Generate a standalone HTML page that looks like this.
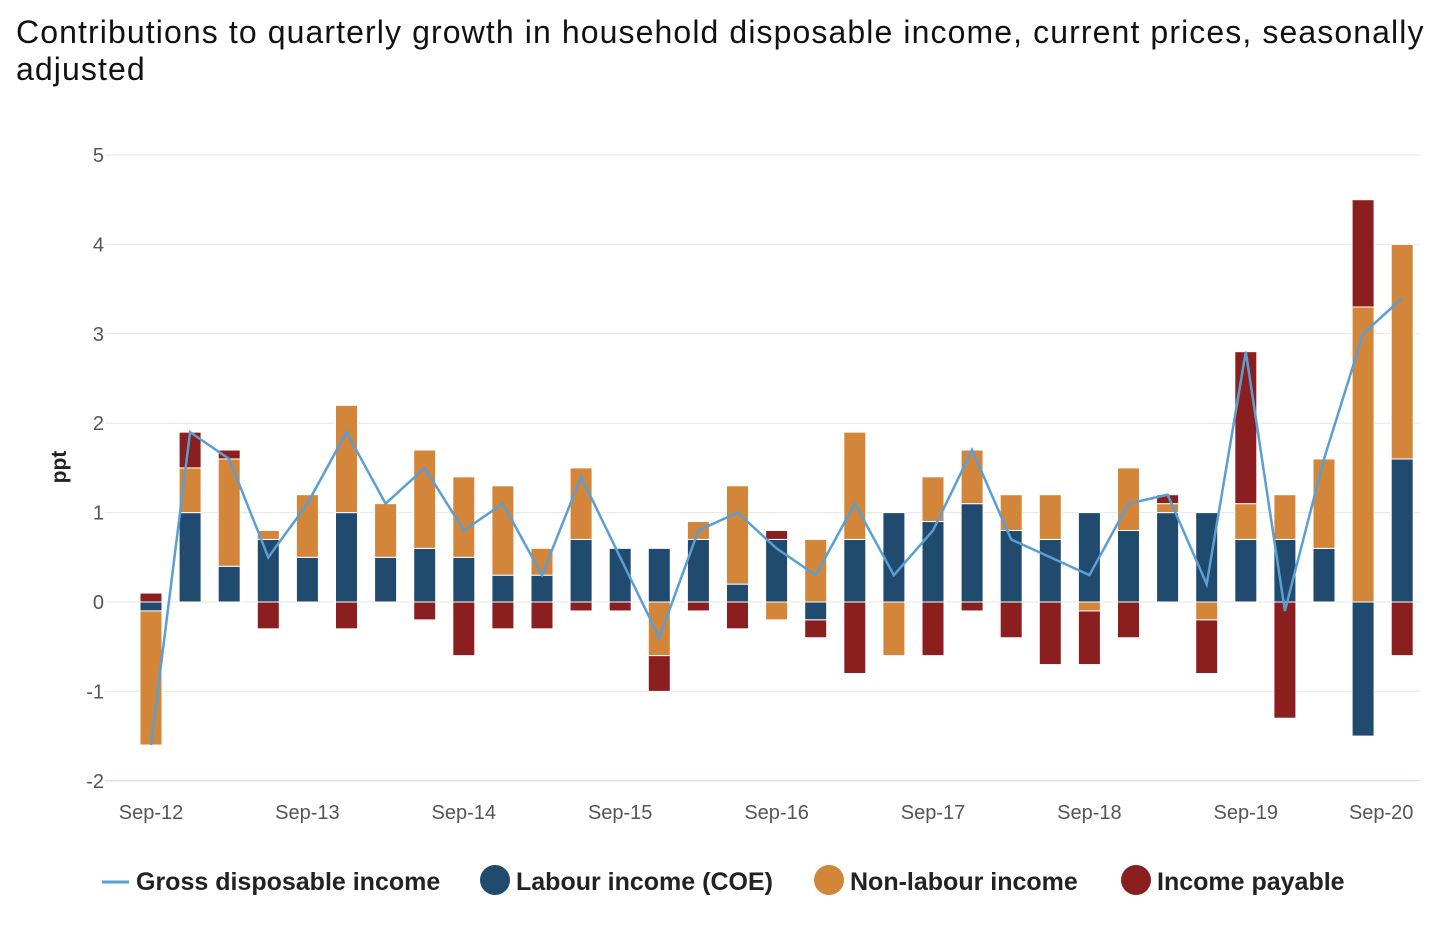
<!DOCTYPE html>
<html><head><meta charset="utf-8"><style>
body{margin:0;background:#fff;font-family:"Liberation Sans",sans-serif;}
#t{position:absolute;left:16px;top:14px;width:1425px;font-size:32px;letter-spacing:1.1px;line-height:37px;color:#111;white-space:nowrap;}
</style></head><body>
<div id="t">Contributions to quarterly growth in household disposable income, current prices, seasonally<br>adjusted</div>
<svg id="c" width="1446" height="940" style="position:absolute;left:0;top:0"></svg>
<script>
const categories=["Sep-12","Dec-12","Mar-13","Jun-13","Sep-13","Dec-13","Mar-14","Jun-14","Sep-14","Dec-14","Mar-15","Jun-15","Sep-15","Dec-15","Mar-16","Jun-16","Sep-16","Dec-16","Mar-17","Jun-17","Sep-17","Dec-17","Mar-18","Jun-18","Sep-18","Dec-18","Mar-19","Jun-19","Sep-19","Dec-19","Mar-20","Jun-20","Sep-20"];
const labour=[-0.1,1.0,0.4,0.7,0.5,1.0,0.5,0.6,0.5,0.3,0.3,0.7,0.6,0.6,0.7,0.2,0.7,-0.2,0.7,1.0,0.9,1.1,0.8,0.7,1.0,0.8,1.0,1.0,0.7,0.7,0.6,-1.5,1.6];
const nonLabour=[-1.5,0.5,1.2,0.1,0.7,1.2,0.6,1.1,0.9,1.0,0.3,0.8,0,-0.6,0.2,1.1,-0.2,0.7,1.2,-0.6,0.5,0.6,0.4,0.5,-0.1,0.7,0.1,-0.2,0.4,0.5,1.0,3.3,2.4];
const payable=[0.1,0.4,0.1,-0.3,0,-0.3,0,-0.2,-0.6,-0.3,-0.3,-0.1,-0.1,-0.4,-0.1,-0.3,0.1,-0.2,-0.8,0,-0.6,-0.1,-0.4,-0.7,-0.6,-0.4,0.1,-0.6,1.7,-1.3,0,1.2,-0.6];
const gdi=[-1.6,1.9,1.6,0.5,1.1,1.9,1.1,1.5,0.8,1.1,0.3,1.4,0.5,-0.4,0.8,1.0,0.6,0.3,1.1,0.3,0.8,1.7,0.7,0.5,0.3,1.1,1.2,0.2,2.8,-0.1,1.6,3.0,3.4];
const yTicks=[5,4,3,2,1,0,-1,-2];
const xLabels=["Sep-12","Sep-13","Sep-14","Sep-15","Sep-16","Sep-17","Sep-18","Sep-19","Sep-20"];
const NS="http://www.w3.org/2000/svg",svg=document.getElementById('c');
const y=v=>602-v*89.4, x=i=>151+i*39.1;
function mk(t,a,p){const e=document.createElementNS(NS,t);for(const k in a)e.setAttribute(k,a[k]);(p||svg).appendChild(e);return e;}
yTicks.forEach(v=>{
 const l=mk('line',{x1:105,x2:1420,y1:y(v),y2:y(v),stroke:v==-2?'#ccd6eb':'#e6e6e6','stroke-width':1});
 
 const t=mk('text',{x:104,y:y(v)+7,'text-anchor':'end','font-size':20,fill:'#555'});t.textContent=v;
 
});
const yt=mk('text',{x:66,y:467,'text-anchor':'middle','font-size':21,'font-weight':'bold',fill:'#222',transform:'rotate(-90 66 467)'});yt.textContent='ppt';

xLabels.forEach(s=>{const i=categories.indexOf(s);let px=x(i);if(i==categories.length-1)px-=21;
 const t=mk('text',{x:px,y:819,'text-anchor':'middle','font-size':20,fill:'#555'});t.textContent=s;
 });
const series=[[labour,'#214a6f'],[nonLabour,'#d3853a'],[payable,'#8b1f1f']];
categories.forEach((c,i)=>{let pos=0,neg=0;
 series.forEach(([arr,col])=>{const v=arr[i];if(!v)return;let a,b;
  if(v>0){a=pos;b=pos+v;pos=b;}else{a=neg;b=neg+v;neg=b;}
  const r=mk('rect',{x:x(i)-11,width:22,y:Math.min(y(a),y(b)),height:Math.abs(y(a)-y(b)),fill:col,stroke:'#fff','stroke-width':1});
  });});
const pl=mk('polyline',{points:gdi.map((v,i)=>x(i)+','+y(v)).join(' '),fill:'none',stroke:'#5a9fd4','stroke-width':2.5});

const lg=[['line','#5a9fd4','Gross disposable income',102],['dot','#214a6f','Labour income (COE)',480],['dot','#d3853a','Non-labour income',814],['dot','#8b1f1f','Income payable',1121]];
lg.forEach(([k,col,txt,lx])=>{const g=mk('g',{});
 if(k=='line')mk('line',{x1:lx,x2:lx+27,y1:882,y2:882,stroke:col,'stroke-width':3},g);
 else mk('circle',{cx:lx+15,cy:880,r:15,fill:col},g);
 const t=mk('text',{x:k=='line'?lx+34:lx+36,y:890,'font-size':25,'font-weight':'bold',fill:'#222'},g);t.textContent=txt;});
</script></body></html>
